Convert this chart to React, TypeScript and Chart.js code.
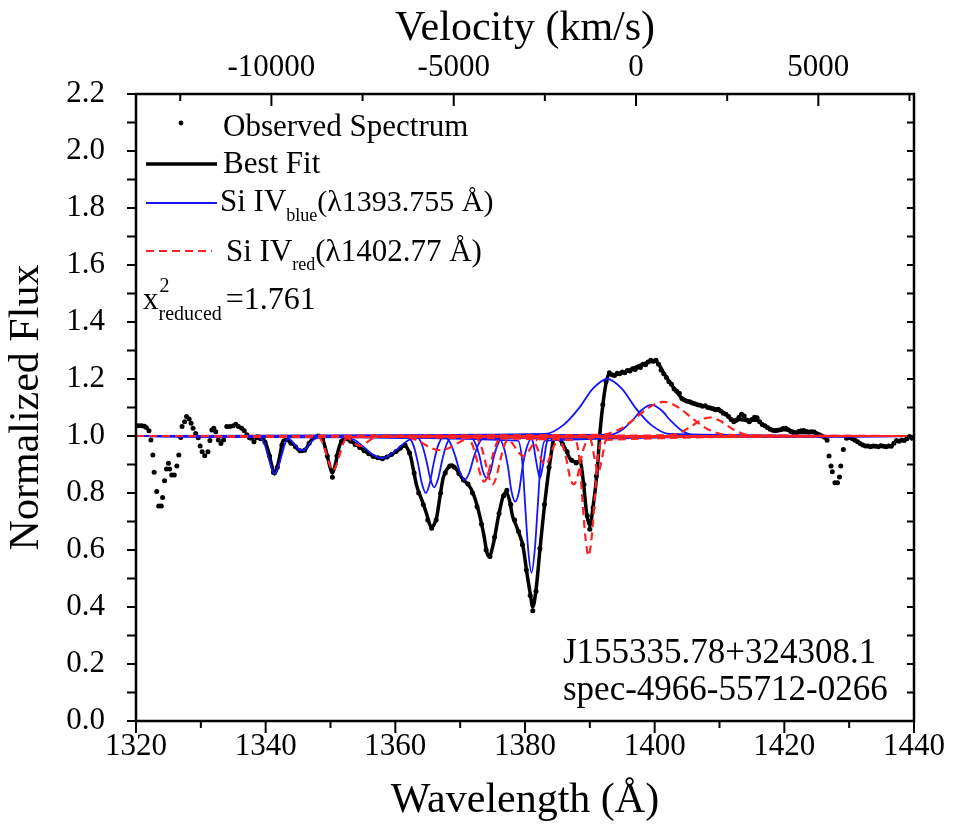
import React, { useEffect, useRef } from 'react';
import { Chart, registerables } from 'chart.js';

Chart.register(...registerables);

const FONT = '"Liberation Serif", "Times New Roman", serif';

// axis ranges and tick values
const WAVE_MIN = 1320;
const WAVE_MAX = 1440;
const FLUX_MIN = 0;
const FLUX_MAX = 2.2;
const VEL_MIN = -13714;
const VEL_MAX = 7624;
const CONTINUUM = 1.0;
const wavelengthTicks = [1320, 1340, 1360, 1380, 1400, 1420, 1440];
const velocityTicks = [-10000, -5000, 0, 5000];

// Observed spectrum: [wavelength (Å), normalized flux]
const observed: [number, number][] = [
  [1320.1, 1.036], [1320.5, 1.036], [1320.9, 1.036], [1321.3, 1.034], [1321.6, 1.03], [1322.0, 1.018],
  [1322.3, 0.986], [1322.6, 0.933], [1322.8, 0.873], [1323.2, 0.805], [1323.5, 0.754], [1323.9, 0.754],
  [1324.1, 0.784], [1324.4, 0.843], [1324.7, 0.884], [1325.0, 0.904], [1325.2, 0.884], [1325.5, 0.863],
  [1325.9, 0.863], [1326.3, 0.895], [1326.6, 0.933], [1326.9, 0.995], [1327.1, 1.033], [1327.5, 1.05],
  [1327.8, 1.068], [1328.2, 1.06], [1328.5, 1.045], [1328.8, 1.027], [1329.2, 1.009], [1329.6, 0.994],
  [1329.9, 0.965], [1330.2, 0.945], [1330.6, 0.931], [1331.1, 0.945], [1331.4, 0.984], [1331.7, 1.021],
  [1332.0, 1.027], [1332.3, 1.015], [1332.7, 0.986], [1333.1, 0.974], [1333.5, 0.986], [1334.0, 1.033],
  [1334.5, 1.033], [1335.0, 1.036], [1335.4, 1.041], [1335.8, 1.033], [1336.3, 1.027], [1336.7, 1.018],
  [1337.1, 1.004], [1337.5, 0.994], [1337.8, 0.992], [1338.2, 0.98], [1338.6, 0.994], [1339.2, 0.99],
  [1339.9, 0.978], [1340.6, 0.93], [1341.2, 0.872], [1341.8, 0.89], [1342.5, 0.968], [1343.2, 0.99],
  [1343.9, 0.975], [1344.6, 0.962], [1345.3, 0.948], [1346.0, 0.95], [1346.7, 0.975], [1347.4, 0.995],
  [1348.1, 1.0], [1348.8, 0.99], [1349.5, 0.93], [1350.3, 0.855], [1351.0, 0.93], [1351.7, 0.982],
  [1352.4, 0.992], [1353.1, 0.982], [1353.8, 0.97], [1354.5, 0.96], [1355.2, 0.948], [1355.9, 0.938],
  [1356.6, 0.928], [1357.3, 0.924], [1358.0, 0.92], [1358.7, 0.926], [1359.4, 0.935], [1360.1, 0.946],
  [1360.8, 0.958], [1361.5, 0.968], [1362.2, 0.94], [1362.9, 0.87], [1363.6, 0.8], [1364.3, 0.76],
  [1365.0, 0.705], [1365.6, 0.676], [1366.3, 0.705], [1367.0, 0.8], [1367.7, 0.87], [1368.4, 0.895],
  [1369.1, 0.89], [1369.8, 0.868], [1370.5, 0.846], [1371.2, 0.832], [1371.9, 0.8], [1372.6, 0.752],
  [1373.3, 0.69], [1374.0, 0.6], [1374.6, 0.577], [1375.3, 0.645], [1376.0, 0.728], [1376.7, 0.79],
  [1377.2, 0.81], [1377.8, 0.76], [1378.4, 0.705], [1379.0, 0.665], [1379.6, 0.618], [1380.2, 0.53],
  [1380.8, 0.44], [1381.2, 0.387], [1381.7, 0.455], [1382.3, 0.605], [1383.0, 0.76], [1383.7, 0.89],
  [1384.4, 0.99], [1385.1, 0.995], [1385.8, 0.972], [1386.5, 0.945], [1387.2, 0.915], [1387.9, 0.905],
  [1388.5, 0.912], [1389.1, 0.83], [1389.6, 0.72], [1390.0, 0.673], [1390.5, 0.748], [1391.0, 0.86],
  [1391.5, 1.0], [1392.0, 1.11], [1392.5, 1.19], [1393.0, 1.222], [1393.4, 1.215], [1393.8, 1.212],
  [1394.2, 1.22], [1394.6, 1.218], [1395.0, 1.225], [1395.4, 1.222], [1395.8, 1.23], [1396.2, 1.228],
  [1396.6, 1.236], [1397.0, 1.233], [1397.4, 1.242], [1397.8, 1.24], [1398.2, 1.252], [1398.6, 1.25],
  [1399.0, 1.26], [1399.4, 1.266], [1399.8, 1.262], [1400.2, 1.266], [1400.6, 1.252], [1401.0, 1.232],
  [1401.4, 1.218], [1401.8, 1.205], [1402.2, 1.19], [1402.6, 1.182], [1403.0, 1.165], [1403.4, 1.157],
  [1403.8, 1.15], [1404.2, 1.132], [1404.6, 1.126], [1405.0, 1.122], [1405.4, 1.12], [1405.8, 1.116],
  [1406.2, 1.113], [1406.6, 1.11], [1407.0, 1.108], [1407.4, 1.104], [1407.8, 1.106], [1408.2, 1.1],
  [1408.6, 1.098], [1409.0, 1.096], [1409.4, 1.092], [1409.8, 1.094], [1410.2, 1.088], [1410.6, 1.08],
  [1411.0, 1.076], [1411.4, 1.068], [1411.8, 1.058], [1412.2, 1.05], [1412.6, 1.055], [1413.0, 1.066],
  [1413.4, 1.076], [1413.8, 1.07], [1414.2, 1.056], [1414.6, 1.05], [1415.0, 1.058], [1415.4, 1.066],
  [1415.8, 1.064], [1416.2, 1.05], [1416.6, 1.04], [1417.0, 1.036], [1417.4, 1.03], [1417.8, 1.024],
  [1418.2, 1.02], [1418.6, 1.018], [1419.0, 1.02], [1419.4, 1.022], [1419.8, 1.026], [1420.2, 1.027],
  [1420.6, 1.022], [1421.0, 1.016], [1421.4, 1.012], [1421.8, 1.01], [1422.2, 1.016], [1422.6, 1.018],
  [1423.0, 1.019], [1423.4, 1.016], [1423.8, 1.014], [1424.2, 1.015], [1424.6, 1.014], [1425.0, 1.008],
  [1425.4, 1.004], [1425.8, 1.0], [1426.2, 0.996], [1426.6, 0.985], [1426.9, 0.93], [1427.2, 0.895],
  [1427.4, 0.875], [1427.8, 0.836], [1428.2, 0.836], [1428.5, 0.856], [1428.7, 0.895], [1429.1, 0.953],
  [1429.6, 0.992], [1430.1, 0.995], [1430.5, 0.99], [1430.9, 0.985], [1431.3, 0.98], [1431.7, 0.974],
  [1432.1, 0.968], [1432.5, 0.965], [1432.9, 0.965], [1433.3, 0.962], [1433.7, 0.965], [1434.1, 0.964],
  [1434.5, 0.962], [1434.9, 0.966], [1435.3, 0.964], [1435.7, 0.962], [1436.1, 0.965], [1436.5, 0.964],
  [1436.9, 0.975], [1437.3, 0.984], [1437.7, 0.982], [1438.1, 0.986], [1438.5, 0.984], [1438.9, 0.99],
  [1439.3, 0.998], [1439.7, 0.992],
];

// Best fit: [wavelength, flux]
const bestFit: [number, number][] = [
  [1338.5, 1.0], [1339.5, 0.995], [1340.0, 0.975], [1340.5, 0.94], [1340.9, 0.9], [1341.4, 0.867],
  [1341.9, 0.9], [1342.3, 0.945], [1342.7, 0.985], [1343.3, 0.985], [1343.8, 0.978], [1344.5, 0.965],
  [1345.0, 0.952], [1345.6, 0.946], [1346.2, 0.955], [1346.8, 0.978], [1347.3, 0.992], [1347.8, 0.998],
  [1348.6, 0.998], [1349.0, 0.975], [1349.4, 0.94], [1350.0, 0.885], [1350.3, 0.87], [1350.8, 0.905],
  [1351.2, 0.95], [1351.6, 0.978], [1352.2, 0.99], [1352.8, 0.986], [1353.3, 0.98], [1354.3, 0.965],
  [1355.0, 0.952], [1355.6, 0.942], [1356.3, 0.933], [1356.9, 0.926], [1357.9, 0.922], [1358.6, 0.925],
  [1359.2, 0.932], [1359.9, 0.942], [1360.5, 0.951], [1361.0, 0.962], [1361.5, 0.966], [1361.9, 0.955],
  [1362.3, 0.933], [1362.8, 0.88], [1363.3, 0.825], [1364.1, 0.775], [1364.8, 0.728], [1365.3, 0.69],
  [1365.6, 0.68], [1366.0, 0.69], [1366.4, 0.717], [1366.9, 0.79], [1367.4, 0.855], [1368.2, 0.89],
  [1368.7, 0.898], [1369.5, 0.881], [1370.0, 0.862], [1370.5, 0.846], [1371.3, 0.828], [1372.0, 0.799],
  [1372.8, 0.74], [1373.6, 0.659], [1374.2, 0.585], [1374.5, 0.578], [1375.1, 0.62], [1375.9, 0.717],
  [1376.6, 0.787], [1377.1, 0.803], [1377.6, 0.775], [1378.1, 0.717], [1378.6, 0.688], [1379.1, 0.658],
  [1379.7, 0.612], [1380.3, 0.518], [1380.8, 0.448], [1381.2, 0.4], [1381.7, 0.46], [1382.3, 0.6],
  [1383.1, 0.775], [1383.9, 0.916], [1384.6, 1.0], [1385.4, 0.986], [1386.2, 0.957], [1386.9, 0.922],
  [1387.7, 0.91], [1388.5, 0.91], [1389.0, 0.84], [1389.5, 0.729], [1390.0, 0.685], [1390.5, 0.752],
  [1391.1, 0.869], [1391.6, 1.021], [1392.1, 1.126], [1392.6, 1.196], [1393.0, 1.218], [1393.6, 1.214],
  [1394.4, 1.218], [1395.2, 1.224], [1396.0, 1.23], [1396.7, 1.237], [1397.5, 1.245], [1398.3, 1.253],
  [1399.3, 1.261], [1400.1, 1.262], [1400.6, 1.253], [1401.3, 1.224], [1402.4, 1.186], [1403.4, 1.155],
  [1404.4, 1.128], [1405.5, 1.119], [1406.5, 1.11], [1407.8, 1.104], [1408.8, 1.097], [1410.1, 1.089],
  [1411.1, 1.074], [1412.1, 1.055], [1413.0, 1.058], [1414.5, 1.055], [1415.7, 1.055], [1416.8, 1.038],
  [1418.3, 1.021], [1420.4, 1.022], [1422.0, 1.012], [1424.5, 1.013], [1425.5, 1.003],
];

// Si IV blue components (each: [wavelength, flux] around its line)
const siIVBlue: [number, number][][] = [
  [[1339.1, 0.995], [1339.8, 0.974], [1340.3, 0.935], [1340.9, 0.889], [1341.4, 0.867], [1341.9, 0.889], [1342.5, 0.935], [1343.0, 0.974], [1343.7, 0.995]],
  [[1342.7, 0.998], [1343.6, 0.99], [1344.3, 0.976], [1344.9, 0.958], [1345.6, 0.95], [1346.3, 0.958], [1346.9, 0.976], [1347.6, 0.99], [1348.5, 0.998]],
  [[1351.9, 0.997], [1353.8, 0.985], [1355.1, 0.962], [1356.5, 0.935], [1357.9, 0.922], [1359.3, 0.935], [1360.7, 0.962], [1362.0, 0.985], [1363.9, 0.997]],
  [[1362.1, 0.993], [1362.9, 0.96], [1363.5, 0.903], [1364.1, 0.833], [1364.7, 0.8], [1365.3, 0.833], [1365.9, 0.903], [1366.5, 0.96], [1367.3, 0.993]],
  [[1363.4, 0.994], [1364.2, 0.964], [1364.8, 0.912], [1365.4, 0.85], [1366.0, 0.82], [1366.6, 0.85], [1367.2, 0.912], [1367.8, 0.964], [1368.6, 0.994]],
  [[1367.7, 0.995], [1368.6, 0.97], [1369.3, 0.925], [1370.0, 0.871], [1370.7, 0.846], [1371.4, 0.871], [1372.1, 0.925], [1372.8, 0.97], [1373.7, 0.995]],
  [[1371.6, 0.995], [1372.4, 0.971], [1373.0, 0.928], [1373.5, 0.877], [1374.1, 0.853], [1374.7, 0.877], [1375.2, 0.928], [1375.8, 0.971], [1376.6, 0.995]],
  [[1376.0, 0.992], [1376.8, 0.954], [1377.4, 0.888], [1377.9, 0.808], [1378.5, 0.77], [1379.1, 0.808], [1379.6, 0.888], [1380.2, 0.954], [1381.0, 0.992]],
  [[1378.9, 0.984], [1379.6, 0.905], [1380.0, 0.766], [1380.5, 0.599], [1381.0, 0.52], [1381.5, 0.599], [1382.0, 0.766], [1382.4, 0.905], [1383.1, 0.984]],
  [[1380.9, 0.995], [1381.3, 0.971], [1381.6, 0.928], [1382.0, 0.877], [1382.3, 0.853], [1382.6, 0.877], [1383.0, 0.928], [1383.3, 0.971], [1383.7, 0.995]],
  [[1383.1, 1.007], [1386.0, 1.04], [1388.3, 1.097], [1390.5, 1.167], [1392.7, 1.2], [1394.9, 1.167], [1397.1, 1.097], [1399.4, 1.04], [1402.3, 1.007]],
  [[1393.0, 1.004], [1395.0, 1.022], [1396.5, 1.053], [1398.0, 1.091], [1399.5, 1.109], [1401.0, 1.091], [1402.5, 1.053], [1404.0, 1.022], [1406.0, 1.004]],
];

// Si IV red components
const siIVRed: [number, number][][] = [
  [[1348.1, 0.996], [1348.8, 0.976], [1349.3, 0.941], [1349.9, 0.898], [1350.4, 0.878], [1350.9, 0.898], [1351.5, 0.941], [1352.0, 0.976], [1352.7, 0.996]],
  [[1351.7, 0.999], [1352.6, 0.993], [1353.3, 0.983], [1353.9, 0.971], [1354.6, 0.965], [1355.3, 0.971], [1355.9, 0.983], [1356.6, 0.993], [1357.5, 0.999]],
  [[1360.9, 0.998], [1362.8, 0.99], [1364.1, 0.976], [1365.5, 0.958], [1366.9, 0.95], [1368.3, 0.958], [1369.7, 0.976], [1371.0, 0.99], [1372.9, 0.998]],
  [[1371.1, 0.995], [1371.9, 0.968], [1372.5, 0.922], [1373.1, 0.866], [1373.7, 0.84], [1374.3, 0.866], [1374.9, 0.922], [1375.5, 0.968], [1376.3, 0.995]],
  [[1372.4, 0.994], [1373.2, 0.966], [1373.8, 0.917], [1374.4, 0.858], [1375.0, 0.83], [1375.6, 0.858], [1376.2, 0.917], [1376.8, 0.966], [1377.6, 0.994]],
  [[1376.7, 0.998], [1377.6, 0.986], [1378.3, 0.966], [1379.0, 0.942], [1379.7, 0.93], [1380.4, 0.942], [1381.1, 0.966], [1381.8, 0.986], [1382.7, 0.998]],
  [[1380.6, 0.997], [1381.4, 0.98], [1382.0, 0.951], [1382.5, 0.917], [1383.1, 0.9], [1383.7, 0.917], [1384.2, 0.951], [1384.8, 0.98], [1385.6, 0.997]],
  [[1385.0, 0.994], [1385.8, 0.966], [1386.4, 0.917], [1386.9, 0.858], [1387.5, 0.83], [1388.1, 0.858], [1388.6, 0.917], [1389.2, 0.966], [1390.0, 0.994]],
  [[1387.7, 0.986], [1388.4, 0.917], [1388.8, 0.795], [1389.3, 0.649], [1389.8, 0.58], [1390.3, 0.649], [1390.8, 0.795], [1391.2, 0.917], [1391.9, 0.986]],
  [[1389.9, 0.996], [1390.3, 0.974], [1390.6, 0.937], [1391.0, 0.891], [1391.3, 0.87], [1391.6, 0.891], [1392.0, 0.937], [1392.3, 0.974], [1392.7, 0.996]],
  [[1391.5, 1.004], [1394.6, 1.024], [1396.8, 1.058], [1399.1, 1.1], [1401.4, 1.12], [1403.7, 1.1], [1406.0, 1.058], [1408.2, 1.024], [1411.3, 1.004]],
  [[1402.0, 1.002], [1404.0, 1.013], [1405.5, 1.032], [1407.0, 1.054], [1408.5, 1.065], [1410.0, 1.054], [1411.5, 1.032], [1413.0, 1.013], [1415.0, 1.002]],
];

const X_TITLE = 'Wavelength (Å)';
const Y_TITLE = 'Normalized Flux';
const TOP_TITLE = 'Velocity (km/s)';
const OBJECT_NAME = 'J155335.78+324308.1';
const SPEC_NAME = 'spec-4966-55712-0266';
const CHI2_VALUE = '=1.761';

const BLUE = '#1414ff';
const RED = '#ff2222';

const toPoints = (pairs: [number, number][]) => pairs.map(([x, y]) => ({ x, y }));
const componentPoints = (pairs: [number, number][]) => [
  { x: WAVE_MIN, y: CONTINUUM },
  ...toPoints(pairs),
  { x: WAVE_MAX, y: CONTINUUM },
];

function drawParts(ctx: CanvasRenderingContext2D, x: number, baseline: number, parts: { t: string; size: number; dy: number }[]) {
  let cx = x;
  for (const p of parts) {
    ctx.font = `${p.size}px ${FONT}`;
    ctx.fillText(p.t, cx, baseline + p.dy);
    cx += ctx.measureText(p.t).width;
  }
  return cx;
}

const framePlugin = {
  id: 'frameTicks',
  afterDatasetsDraw(chart: any) {
    const { ctx, chartArea: a, scales } = chart;
    const xs = scales.x;
    const ys = scales.y;
    const vs = scales.xTop;
    ctx.save();
    ctx.strokeStyle = '#000';
    ctx.lineWidth = 2;
    ctx.beginPath();
    for (let w = WAVE_MIN; w <= WAVE_MAX + 1e-6; w += 10) {
      const px = xs.getPixelForValue(w);
      const len = Math.round(w - WAVE_MIN) % 20 === 0 ? 12 : 7;
      ctx.moveTo(px, a.bottom);
      ctx.lineTo(px, a.bottom + len);
    }
    for (let i = 0; i <= Math.round(FLUX_MAX * 10); i++) {
      const py = ys.getPixelForValue(i / 10);
      ctx.moveTo(a.left - 9, py);
      ctx.lineTo(a.left, py);
      ctx.moveTo(a.right, py);
      ctx.lineTo(a.right - 7, py);
    }
    for (let v = -12500; v <= VEL_MAX; v += 2500) {
      const px = vs.getPixelForValue(v);
      const len = v % 5000 === 0 ? 12 : 7;
      ctx.moveTo(px, a.top);
      ctx.lineTo(px, a.top + len);
    }
    ctx.stroke();
    ctx.lineWidth = 2.5;
    ctx.strokeRect(a.left, a.top, a.right - a.left, a.bottom - a.top);
    ctx.restore();
  },
  afterDraw(chart: any) {
    const { ctx, chartArea: a } = chart;
    ctx.save();
    ctx.fillStyle = '#000';
    ctx.textBaseline = 'alphabetic';
    ctx.textAlign = 'left';
    const lx0 = a.left + 10;
    const lx1 = a.left + 81;

    // Observed spectrum
    ctx.beginPath();
    ctx.arc(a.left + 45, a.top + 29, 2.4, 0, Math.PI * 2);
    ctx.fill();
    drawParts(ctx, a.left + 87, a.top + 42, [{ t: 'Observed Spectrum', size: 31, dy: 0 }]);

    // Best fit
    ctx.strokeStyle = '#000';
    ctx.lineWidth = 3.5;
    ctx.beginPath();
    ctx.moveTo(lx0, a.top + 70);
    ctx.lineTo(lx1, a.top + 70);
    ctx.stroke();
    drawParts(ctx, a.left + 87, a.top + 79, [{ t: 'Best Fit', size: 31, dy: 0 }]);

    // Si IV blue
    ctx.strokeStyle = BLUE;
    ctx.lineWidth = 2;
    ctx.beginPath();
    ctx.moveTo(lx0, a.top + 109);
    ctx.lineTo(lx1, a.top + 109);
    ctx.stroke();
    drawParts(ctx, a.left + 84, a.top + 117, [
      { t: 'Si IV', size: 31, dy: 0 },
      { t: 'blue', size: 18, dy: 10 },
      { t: '(λ1393.755 Å)', size: 30, dy: 0 },
    ]);

    // Si IV red
    ctx.strokeStyle = RED;
    ctx.lineWidth = 2.2;
    ctx.setLineDash([8, 5]);
    ctx.beginPath();
    ctx.moveTo(lx0, a.top + 157);
    ctx.lineTo(a.left + 76, a.top + 157);
    ctx.stroke();
    ctx.setLineDash([]);
    drawParts(ctx, a.left + 90, a.top + 167, [
      { t: 'Si IV', size: 31, dy: 0 },
      { t: 'red', size: 18, dy: 9 },
      { t: '(λ1402.77 Å)', size: 31, dy: 0 },
    ]);

    // reduced chi square
    const cx = a.left + 7;
    const cb = a.top + 215;
    ctx.font = `31px ${FONT}`;
    ctx.fillText('x', cx, cb);
    const xw = ctx.measureText('x').width;
    ctx.font = `20px ${FONT}`;
    ctx.fillText('2', cx + xw + 1, cb - 17);
    ctx.fillText('reduced', cx + xw, cb + 11);
    const rw = ctx.measureText('reduced').width;
    drawParts(ctx, cx + xw + rw + 4, cb, [{ t: CHI2_VALUE, size: 32, dy: 0 }]);

    // object labels
    drawParts(ctx, a.left + 427, a.bottom - 58, [{ t: OBJECT_NAME, size: 35, dy: 0 }]);
    drawParts(ctx, a.left + 427, a.bottom - 21, [{ t: SPEC_NAME, size: 35, dy: 0 }]);
    ctx.restore();
  },
};

export default function App() {
  const canvasRef = useRef<HTMLCanvasElement | null>(null);

  useEffect(() => {
    document.body.style.margin = '0';
    const canvas = canvasRef.current;
    if (!canvas) return;

    const datasets: any[] = [
      ...siIVRed.map((c) => ({
        data: componentPoints(c),
        borderColor: RED,
        borderWidth: 2.2,
        borderDash: [8, 5],
        pointRadius: 0,
        cubicInterpolationMode: 'monotone',
        fill: false,
        order: 1,
      })),
      ...siIVBlue.map((c) => ({
        data: componentPoints(c),
        borderColor: BLUE,
        borderWidth: 1.8,
        pointRadius: 0,
        cubicInterpolationMode: 'monotone',
        fill: false,
        order: 2,
      })),
      {
        data: toPoints(bestFit),
        borderColor: '#000',
        borderWidth: 3.5,
        pointRadius: 0,
        cubicInterpolationMode: 'monotone',
        fill: false,
        order: 3,
      },
      {
        data: toPoints(observed),
        showLine: false,
        pointRadius: 2.5,
        pointBackgroundColor: '#000',
        pointBorderWidth: 0,
        order: 4,
      },
    ];

    const tickFont = { family: FONT, size: 31 };
    const titleFont = { family: FONT, size: 42 };

    const chart = new Chart(canvas, {
      type: 'line',
      data: { datasets },
      plugins: [framePlugin],
      options: {
        animation: false,
        responsive: false,
        devicePixelRatio: 1,
        parsing: false as any,
        layout: { padding: { left: 0, right: 41, top: 0, bottom: 0 } },
        plugins: { legend: { display: false }, tooltip: { enabled: false } },
        scales: {
          x: {
            type: 'linear',
            position: 'bottom',
            min: WAVE_MIN,
            max: WAVE_MAX,
            grid: { display: false, drawTicks: false },
            border: { display: false },
            afterBuildTicks: (s: any) => { s.ticks = wavelengthTicks.map((value) => ({ value })); },
            ticks: {
              autoSkip: false,
              maxRotation: 0,
              padding: 7,
              color: '#000',
              font: tickFont,
              callback: (v: any) => String(v),
            },
            title: { display: true, text: X_TITLE, color: '#000', font: titleFont, padding: { top: 0, bottom: 4 } },
            afterFit: (s: any) => { s.height = 109; },
          },
          xTop: {
            type: 'linear',
            position: 'top',
            min: VEL_MIN,
            max: VEL_MAX,
            grid: { display: false, drawTicks: false },
            border: { display: false },
            afterBuildTicks: (s: any) => { s.ticks = velocityTicks.map((value) => ({ value })); },
            ticks: {
              autoSkip: false,
              maxRotation: 0,
              padding: 8,
              color: '#000',
              font: tickFont,
              callback: (v: any) => String(v),
            },
            title: { display: true, text: TOP_TITLE, color: '#000', font: titleFont, padding: { top: 4, bottom: 0 } },
            afterFit: (s: any) => { s.height = 94; },
          },
          y: {
            type: 'linear',
            position: 'left',
            min: FLUX_MIN,
            max: FLUX_MAX,
            grid: { display: false, drawTicks: false },
            border: { display: false },
            ticks: {
              stepSize: 0.2,
              autoSkip: false,
              padding: 31,
              color: '#000',
              font: tickFont,
              callback: (v: any) => Number(v).toFixed(1),
            },
            title: { display: true, text: Y_TITLE, color: '#000', font: titleFont, padding: { top: 2, bottom: 0 } },
            afterFit: (s: any) => { s.width = 136; },
          },
        },
      } as any,
    });

    return () => chart.destroy();
  }, []);

  return (
    <div style={{ width: 955, height: 830, background: '#fff' }}>
      <canvas ref={canvasRef} width={955} height={830} style={{ display: 'block' }} />
    </div>
  );
}
